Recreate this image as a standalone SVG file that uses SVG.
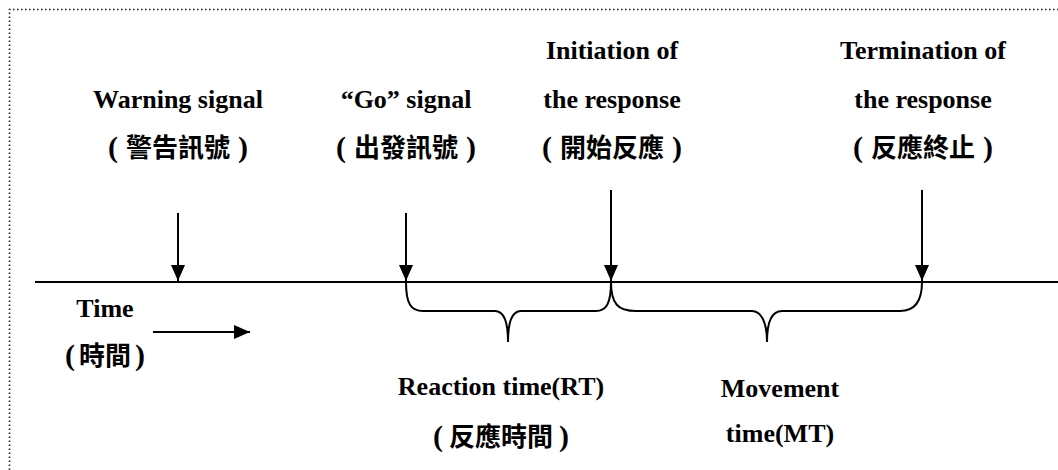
<svg xmlns="http://www.w3.org/2000/svg" width="1058" height="470" viewBox="0 0 1058 470">
  <style>
    .en { font-family: "Liberation Serif", "Times New Roman", serif; font-weight: bold; font-size: 26px; fill: #000; text-anchor: middle; }
    .zh { font-family: "Noto Sans CJK TC", "Noto Sans CJK SC", sans-serif; font-weight: bold; font-size: 26px; fill: #000; text-anchor: middle; }
    .zh .p { font-family: "Liberation Serif", "Times New Roman", serif; font-weight: bold; font-size: 30px; }
    .line { stroke: #000; stroke-width: 2; fill: none; }
    .frame { stroke: #222; stroke-width: 1.6; fill: none; stroke-dasharray: 1.6 2.4; }
  </style>
  <defs>
    <marker id="head" markerUnits="userSpaceOnUse" markerWidth="18" markerHeight="18" viewBox="0 0 18 18" refX="17" refY="9" orient="auto">
      <path d="M1,2 L17,9 L1,16 Z" fill="#000"/>
    </marker>
  </defs>

  <rect width="1058" height="470" fill="#fff"/>
  <!-- dotted frame -->
  <path class="frame" d="M9.5,470 V9.5 H1058"/>

  <!-- time axis -->
  <line class="line" x1="35" y1="282" x2="1058" y2="282"/>

  <g id="warning">
    <text class="en" x="178" y="108">Warning signal</text>
    <text class="zh" y="157"><tspan class="p" x="113">(</tspan><tspan x="178">警告訊號</tspan><tspan class="p" x="243">)</tspan></text>
  </g>
  <g id="go">
    <text class="en" x="406" y="108">“Go” signal</text>
    <text class="zh" y="157"><tspan class="p" x="341">(</tspan><tspan x="406">出發訊號</tspan><tspan class="p" x="471">)</tspan></text>
  </g>
  <g id="initiation">
    <text class="en" x="612" y="59">Initiation of</text>
    <text class="en" x="612" y="108">the response</text>
    <text class="zh" y="157"><tspan class="p" x="547">(</tspan><tspan x="612">開始反應</tspan><tspan class="p" x="677">)</tspan></text>
  </g>
  <g id="termination">
    <text class="en" x="923" y="59">Termination of</text>
    <text class="en" x="923" y="108">the response</text>
    <text class="zh" y="157"><tspan class="p" x="858">(</tspan><tspan x="923">反應終止</tspan><tspan class="p" x="988">)</tspan></text>
  </g>
  <g id="time">
    <text class="en" x="105" y="317">Time</text>
    <text class="zh" y="365"><tspan class="p" x="70">(</tspan><tspan x="105">時間</tspan><tspan class="p" x="140">)</tspan></text>
  </g>
  <g id="rt">
    <text class="en" x="501" y="395">Reaction time(RT)</text>
    <text class="zh" y="446"><tspan class="p" x="438">(</tspan><tspan x="501">反應時間</tspan><tspan class="p" x="564">)</tspan></text>
  </g>
  <g id="mt">
    <text class="en" x="780" y="397">Movement</text>
    <text class="en" x="780" y="442">time(MT)</text>
  </g>

  <g id="connectors">
    <line class="line" x1="178" y1="213" x2="178" y2="281" marker-end="url(#head)"/>
    <line class="line" x1="406" y1="213" x2="406" y2="281" marker-end="url(#head)"/>
    <line class="line" x1="611" y1="190" x2="611" y2="281" marker-end="url(#head)"/>
    <line class="line" x1="922" y1="190" x2="922" y2="281" marker-end="url(#head)"/>
    <line class="line" x1="153" y1="332" x2="250" y2="332" marker-end="url(#head)"/>
    <!-- braces -->
    <path class="line" d="M406,282 C406,304 411,311 423,311 L495,311 C503,311 508,320 508,342 C508,320 513,311 521,311 L596,311 C606,311 611,304 611,282"/>
    <path class="line" d="M611,282 C611,304 618,311 636,311 L752,311 C760,311 767,320 767,342 C767,320 773,311 782,311 L900,311 C914,311 922,302 922,282"/>
  </g>
</svg>
